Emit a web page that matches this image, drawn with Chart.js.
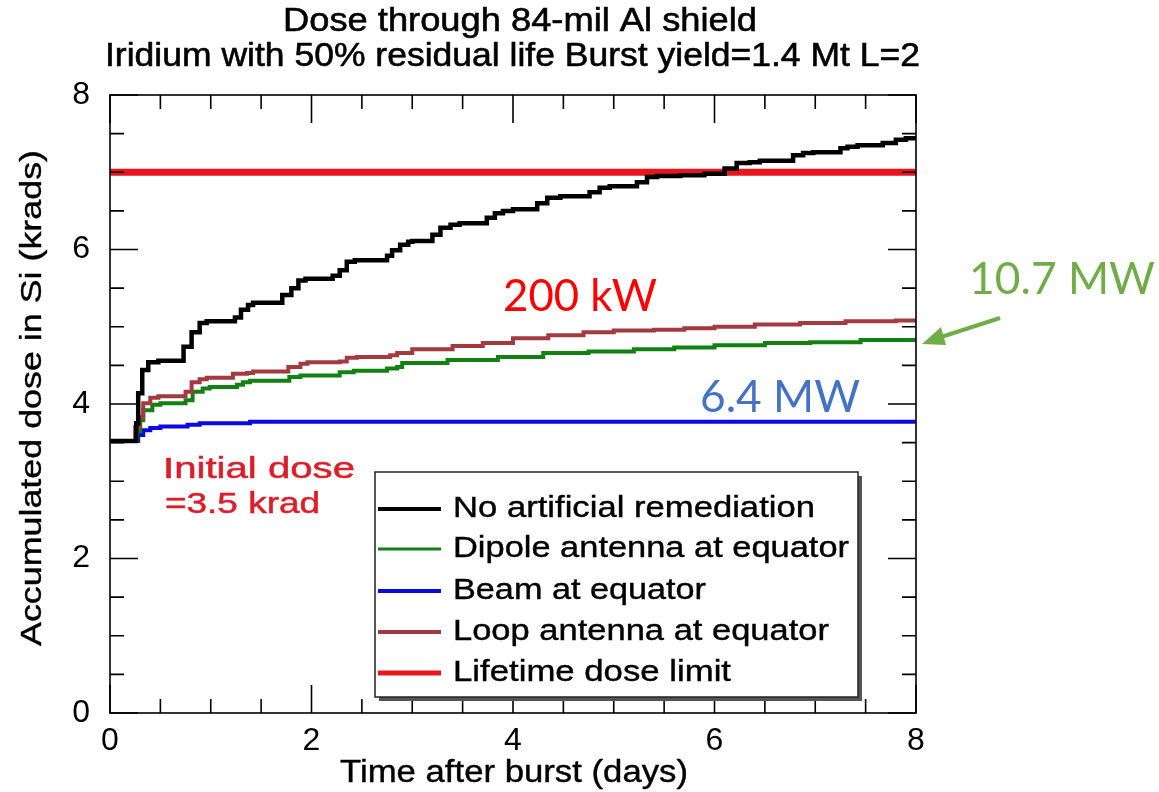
<!DOCTYPE html>
<html>
<head>
<meta charset="utf-8">
<script src="https://cdn.jsdelivr.net/npm/chart.js@4/dist/chart.umd.min.js"></script>
<style>
  html, body { margin: 0; padding: 0; background: #ffffff; }
  #wrap { width: 1159px; height: 792px; position: relative; }
  canvas { display: block; }
</style>
</head>
<body>
<div id="wrap"><canvas id="c" width="1159" height="792"></canvas></div>
<script>
// ---------------- data ----------------
const titleLines = ["Dose through 84-mil Al shield", "Iridium with 50% residual life Burst yield=1.4 Mt L=2"];
const xAxisTitle = "Time after burst (days)";
const yAxisTitle = "Accumulated dose in Si (krads)";
const xTicks = [0, 2, 4, 6, 8];
const yTicks = [0, 2, 4, 6, 8];

const seriesNames = ["No artificial remediation", "Dipole antenna at equator", "Beam at equator", "Loop antenna at equator", "Lifetime dose limit"];

const noRemedDays = [0, 0.26, 0.28, 0.32, 0.38, 0.48, 0.73, 0.81, 0.89, 0.96, 1.24, 1.30, 1.37, 1.42, 1.71, 1.80, 1.87, 1.94, 2.21, 2.28, 2.35, 2.43, 2.75, 2.80, 2.88, 2.96, 3.00, 3.20, 3.28, 3.38, 3.47, 3.74, 3.82, 3.90, 4.00, 4.24, 4.34, 4.47, 4.76, 4.86, 4.96, 5.23, 5.33, 5.43, 5.66, 5.90, 6.10, 6.22, 6.35, 6.45, 6.78, 6.88, 6.98, 7.25, 7.32, 7.42, 7.67, 7.80, 7.90, 8.00];
const noRemedDose = [3.52, 3.52, 3.75, 4.14, 4.44, 4.54, 4.56, 4.74, 4.93, 5.05, 5.07, 5.12, 5.22, 5.28, 5.31, 5.41, 5.50, 5.60, 5.62, 5.66, 5.73, 5.84, 5.86, 5.92, 5.99, 6.06, 6.10, 6.11, 6.19, 6.28, 6.32, 6.34, 6.41, 6.47, 6.50, 6.52, 6.60, 6.67, 6.69, 6.74, 6.80, 6.82, 6.87, 6.94, 6.95, 6.96, 6.98, 7.05, 7.12, 7.13, 7.15, 7.22, 7.25, 7.26, 7.31, 7.33, 7.35, 7.38, 7.42, 7.44];

const dipoleDays = [0, 0.27, 0.30, 0.33, 0.42, 0.50, 0.75, 0.82, 0.92, 0.99, 1.26, 1.32, 1.39, 1.78, 1.89, 2.28, 2.42, 2.75, 2.85, 2.90, 3.35, 3.85, 4.30, 4.75, 5.20, 5.60, 6.00, 6.50, 6.95, 7.45, 8.00];
const dipoleDose = [3.52, 3.52, 3.65, 3.79, 3.92, 3.99, 4.01, 4.05, 4.16, 4.20, 4.22, 4.25, 4.28, 4.30, 4.35, 4.37, 4.41, 4.43, 4.46, 4.48, 4.53, 4.57, 4.61, 4.66, 4.68, 4.71, 4.73, 4.76, 4.79, 4.80, 4.83];

const beamDays = [0, 0.28, 0.33, 0.40, 0.50, 0.77, 0.89, 1.39, 2.90, 8.00];
const beamDose = [3.52, 3.52, 3.60, 3.66, 3.69, 3.71, 3.73, 3.75, 3.77, 3.77];

const loopDays = [0, 0.25, 0.29, 0.33, 0.40, 0.48, 0.75, 0.81, 0.89, 0.96, 1.22, 1.36, 1.42, 1.77, 1.89, 1.96, 2.28, 2.35, 2.45, 2.78, 2.85, 3.00, 3.40, 3.70, 4.00, 4.35, 4.70, 5.00, 5.40, 5.70, 6.00, 6.40, 6.85, 7.30, 7.80, 8.00];
const loopDose = [3.52, 3.52, 3.70, 3.83, 4.01, 4.08, 4.10, 4.16, 4.28, 4.32, 4.34, 4.39, 4.40, 4.42, 4.48, 4.52, 4.54, 4.55, 4.60, 4.61, 4.63, 4.66, 4.71, 4.75, 4.79, 4.85, 4.89, 4.93, 4.95, 4.96, 4.98, 5.00, 5.03, 5.05, 5.07, 5.08];

const limitDays = [0, 8];
const limitDose = [7, 7];

const annoPower = ["200 kW", "6.4 MW", "10.7 MW"];
const annoInitial = ["Initial dose", "=3.5 krad"];

// ---------------- helpers ----------------
function pts(xs, ys) { return xs.map((x, i) => ({ x: x, y: ys[i] })); }

const colors = {
  black: "#000000",
  green: "#118211",
  blue: "#0a0ae0",
  brown: "#a33a3f",
  red: "#e8161c"
};

function fitText(ctx, text, x, y, width, font, color, stroke) {
  ctx.save();
  ctx.font = font;
  ctx.fillStyle = color;
  ctx.textBaseline = "middle";
  ctx.textAlign = "left";
  const w = ctx.measureText(text).width;
  const s = width / w;
  ctx.translate(x, y);
  ctx.scale(s, 1);
  ctx.fillText(text, 0, 0);
  if (stroke) {
    ctx.strokeStyle = color;
    ctx.lineWidth = stroke;
    ctx.strokeText(text, 0, 0);
  }
  ctx.restore();
}

const decorPlugin = {
  id: "decor",
  afterDatasetsDraw(chart) {
    const ctx = chart.ctx;
    const xs = chart.scales.x, ys = chart.scales.y;
    const L = chart.chartArea.left, R = chart.chartArea.right, T = chart.chartArea.top, B = chart.chartArea.bottom;
    ctx.save();
    ctx.strokeStyle = "#000";
    ctx.lineWidth = 1.6;
    ctx.strokeRect(L, T, R - L, B - T);
    for (let v = 0; v <= 8.0001; v += 0.5) {
      const major = Math.abs(v % 2) < 1e-6;
      const len = major ? 28 : 14;
      const px = xs.getPixelForValue(v);
      const py = ys.getPixelForValue(v);
      ctx.beginPath();
      ctx.moveTo(px, B); ctx.lineTo(px, B - len);
      ctx.moveTo(px, T); ctx.lineTo(px, T + len);
      ctx.moveTo(L, py); ctx.lineTo(L + len, py);
      ctx.moveTo(R, py); ctx.lineTo(R - len, py);
      ctx.stroke();
    }
    ctx.restore();
  },
  afterDraw(chart) {
    const ctx = chart.ctx;
    const helv = "Liberation Sans, Arial, Helvetica, sans-serif";
    // titles (condensed look)
    fitText(ctx, titleLines[0], 283, 22, 474, "34px " + helv, "#000", 0.6);
    fitText(ctx, titleLines[1], 105, 57, 815, "34px " + helv, "#000", 0.6);
    // axis titles
    fitText(ctx, xAxisTitle, 340, 773, 348, "31px " + helv, "#000", 0.4);
    ctx.save();
    ctx.translate(33, 398);
    ctx.rotate(-Math.PI / 2);
    fitText(ctx, yAxisTitle, -248, 0, 496, "30px " + helv, "#000", 0.4);
    ctx.restore();

    // annotations
    const cal = "Lato, 'Open Sans', sans-serif";
    fitText(ctx, annoPower[0], 503, 297, 154, "44px " + cal, "#ff0000");
    fitText(ctx, annoPower[1], 700, 398, 160, "44px " + cal, "#4472c4");
    fitText(ctx, annoPower[2], 969, 280, 186, "44px " + cal, "#70ad47");
    fitText(ctx, annoInitial[0], 163, 470, 192, "29px " + helv, "#dc1e28", 0.5);
    fitText(ctx, annoInitial[1], 165, 505, 155, "29px " + helv, "#dc1e28", 0.5);

    // green arrow
    ctx.save();
    ctx.strokeStyle = "#70ad47";
    ctx.fillStyle = "#70ad47";
    ctx.lineWidth = 4;
    ctx.beginPath();
    ctx.moveTo(1000, 318);
    ctx.lineTo(938, 338);
    ctx.stroke();
    ctx.beginPath();
    ctx.moveTo(922, 344);
    ctx.lineTo(941, 327);
    ctx.lineTo(946, 345);
    ctx.closePath();
    ctx.fill();
    ctx.restore();

    // legend box
    ctx.save();
    ctx.fillStyle = "#555";
    ctx.fillRect(379, 476, 483, 225);
    ctx.fillStyle = "#fff";
    ctx.fillRect(375, 472, 483, 225);
    ctx.strokeStyle = "#222";
    ctx.lineWidth = 1.5;
    ctx.strokeRect(375, 472, 483, 225);
    const rows = [509, 549, 591, 632, 673];
    const cols = [colors.black, colors.green, colors.blue, colors.brown, colors.red];
    const widths = [4, 3, 4, 4, 5];
    const textW = [362, 396, 253, 376, 278];
    for (let i = 0; i < seriesNames.length; i++) {
      ctx.strokeStyle = cols[i];
      ctx.lineWidth = widths[i];
      ctx.beginPath();
      ctx.moveTo(378, rows[i]);
      ctx.lineTo(441, rows[i]);
      ctx.stroke();
      fitText(ctx, seriesNames[i], 453, rows[i], textW[i], "29px " + helv, "#000", 0.4);
    }
    ctx.restore();
  }
};

const ds = (label, xs, ys, color, width, order) => ({
  label: label,
  data: pts(xs, ys),
  borderColor: color,
  backgroundColor: color,
  borderWidth: width,
  pointRadius: 0,
  stepped: "after",
  fill: false,
  order: order,
  borderCapStyle: "butt"
});

new Chart(document.getElementById("c"), {
  type: "line",
  data: {
    datasets: [
      ds(seriesNames[0], noRemedDays, noRemedDose, colors.black, 4.5, 1),
      ds(seriesNames[1], dipoleDays, dipoleDose, colors.green, 4, 3),
      ds(seriesNames[2], beamDays, beamDose, colors.blue, 4, 4),
      ds(seriesNames[3], loopDays, loopDose, colors.brown, 4, 2),
      ds(seriesNames[4], limitDays, limitDose, colors.red, 7, 5)
    ]
  },
  options: {
    responsive: false,
    animation: false,
    devicePixelRatio: 1,
    layout: { padding: { left: 0, right: 243, top: 95, bottom: 0 } },
    plugins: { legend: { display: false }, title: { display: false }, tooltip: { enabled: false } },
    scales: {
      x: {
        type: "linear", min: 0, max: 8,
        afterFit: (s) => { s.height = 79; },
        afterBuildTicks: (s) => { s.ticks = xTicks.map(v => ({ value: v })); },
        grid: { display: false, drawTicks: false },
        border: { display: false },
        ticks: { color: "#000", padding: 9, font: { family: "Liberation Sans, Arial, sans-serif", size: 32 } }
      },
      y: {
        type: "linear", min: 0, max: 8,
        afterFit: (s) => { s.width = 110; },
        afterBuildTicks: (s) => { s.ticks = yTicks.map(v => ({ value: v })); },
        grid: { display: false, drawTicks: false },
        border: { display: false },
        ticks: { color: "#000", padding: 20, font: { family: "Liberation Sans, Arial, sans-serif", size: 32 } }
      }
    }
  },
  plugins: [decorPlugin]
});
</script>
</body>
</html>
